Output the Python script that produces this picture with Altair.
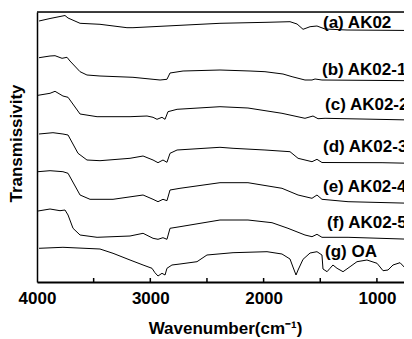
import altair as alt
import pandas as pd

# --- data (wavenumber, transmissivity in arbitrary offset units) ---
a_wn = [3982, 3885, 3753, 3726, 3620, 3444, 3206, 3153, 2385, 1970, 1767, 1705, 1652, 1590, 1529, 1458, 1264, 690]
a_tr = [261, 263.5, 266.5, 264, 258.7, 257.7, 254.3, 254.3, 258.7, 259.7, 260.3, 258, 252.7, 255.3, 256, 253, 252, 251.5]

b_wn = [3982, 3885, 3841, 3779, 3735, 3709, 3620, 3559, 3444, 3153, 2976, 2914, 2853, 2826, 2711, 2385, 2120, 1988, 1829, 1749, 1635, 1573, 1546, 1485, 690]
b_tr = [224.3, 226, 226.3, 223.7, 224.7, 221, 210.3, 207, 206, 204.7, 202.7, 202, 202.7, 209, 211, 212, 211, 210.3, 208, 205.3, 202, 202, 203, 202, 201.3]

c_wn = [3991, 3885, 3841, 3771, 3726, 3620, 3470, 3179, 3029, 2976, 2941, 2897, 2870, 2844, 2764, 2385, 2138, 1838, 1635, 1564, 1520, 1458, 690]
c_tr = [186.7, 188.7, 190.7, 186, 184.7, 168, 165.3, 165.3, 166, 164.7, 162.7, 164.7, 162.7, 170.3, 172.7, 175.3, 174, 168.7, 163.7, 166, 163.3, 163.7, 162]

d_wn = [3982, 3859, 3771, 3726, 3638, 3559, 3444, 3179, 3064, 2976, 2932, 2888, 2853, 2826, 2764, 2385, 2270, 1988, 1767, 1696, 1573, 1529, 1485, 955, 690]
d_tr = [148, 149.3, 148, 147, 128.7, 122, 121.3, 123.7, 126, 122, 119.3, 122, 119.7, 128.7, 132, 134.7, 133.7, 132, 130.3, 123.7, 120.3, 122.7, 119.5, 119.3, 118.7]

e_wn = [3991, 3885, 3771, 3726, 3620, 3532, 3329, 3064, 2976, 2932, 2888, 2853, 2826, 2738, 2385, 2138, 1838, 1696, 1573, 1529, 1485, 1255, 690]
e_tr = [110.3, 111.3, 110.3, 108.7, 87, 82.7, 82.7, 87, 82.7, 80.3, 82.7, 81.3, 92, 93.7, 99.3, 99.3, 93.7, 87, 83.7, 87, 82.7, 80.3, 78.7]

f_wn = [3991, 3885, 3797, 3753, 3726, 3682, 3620, 3470, 3179, 3064, 2976, 2932, 2888, 2853, 2826, 2738, 2385, 2138, 1926, 1785, 1635, 1573, 1529, 1485, 1255, 690]
f_tr = [71, 73, 71.3, 72, 67, 53.7, 47, 44.7, 46, 48.7, 43.7, 42.7, 44.3, 42.7, 53.7, 55.3, 62, 62, 59.3, 53.7, 47, 45.3, 47.7, 44.7, 44.7, 42.7]

g_wn = [3982, 3771, 3444, 3329, 3179, 3064, 2985, 2959, 2932, 2897, 2870, 2853, 2809, 2738, 2588, 2500, 2270, 1970, 1838, 1767, 1741, 1714, 1696, 1652, 1590, 1529, 1485, 1476, 1440, 1414, 1388, 1352, 1299, 1237, 1176, 1088, 999, 946, 902, 858, 796, 734, 690]
g_tr = [33.7, 34.7, 33, 28.7, 22, 17, 13.7, 9.3, 6, 8.7, 7, 13.7, 17, 18, 20.3, 27, 29.3, 30.3, 28, 23, 15, 7, 12, 22.7, 29, 30.3, 27, 13, 10.3, 13.7, 17, 13.7, 10.3, 15.3, 20.3, 22, 18.7, 11.3, 12, 17, 19.3, 12, 16]

label_text = ["(a) AK02", "(b) AK02-10", "(c) AK02-20", "(d) AK02-30", "(e) AK02-40", "(f) AK02-50", "(g) OA"]
label_wn = [1476, 1485, 1458, 1476, 1476, 1440, 1458]
label_tr = [254.5, 207, 172, 130.3, 90.3, 53.7, 25]

tick_wn = [3500, 3000, 2500, 2000, 1500, 1000]
label_values = [4000, 3000, 2000, 1000]

series = [("a", a_wn, a_tr), ("b", b_wn, b_tr), ("c", c_wn, c_tr), ("d", d_wn, d_tr),
          ("e", e_wn, e_tr), ("f", f_wn, f_tr), ("g", g_wn, g_tr)]
rows = []
for name, ws, ts in series:
    for w, t in zip(ws, ts):
        rows.append({"series": name, "wn": w, "tr": t})
df = pd.DataFrame(rows)
labels_df = pd.DataFrame({"wn": label_wn, "tr": label_tr, "text": label_text})
ticks_df = pd.DataFrame({"wn": tick_wn})
one_df = pd.DataFrame({"k": [0]})

W, H = 367, 270
FONT = "Liberation Sans"
xs = alt.Scale(domain=[4000, 761], nice=False, zero=False)
ys = alt.Scale(domain=[0, 270], nice=False, zero=False)

x_axis = alt.Axis(values=label_values, format="d", ticks=False, tickSize=0, grid=False,
                  labelFont=FONT, labelFontSize=17, labelFontWeight="bold", labelColor="black",
                  labelPadding=8, labelFlush=False, labelOverlap=False, labelBound=False,
                  domainColor="black", domainWidth=2,
                  title="Wavenumber(cm⁻¹)", titleFont=FONT, titleFontSize=17,
                  titleFontWeight="bold", titleColor="black",
                  titleX=188, titleY=51, titleBaseline="alphabetic", titleAlign="center")
y_axis = alt.Axis(labels=False, ticks=False, grid=False, domainColor="black", domainWidth=1.5,
                  title="Transmissivity", titleFont=FONT, titleFontSize=17,
                  titleFontWeight="bold", titleColor="black",
                  titleX=-15.5, titleY=131, titleAngle=270, titleAlign="center",
                  titleBaseline="alphabetic")

lines = alt.Chart(df).mark_line(color="black", strokeWidth=1, clip=True).encode(
    x=alt.X("wn:Q", scale=xs, axis=x_axis),
    y=alt.Y("tr:Q", scale=ys, axis=y_axis),
    detail="series:N",
)

texts = alt.Chart(labels_df).mark_text(
    align="left", baseline="alphabetic", font=FONT, fontSize=17, fontWeight="bold",
    color="black", clip=True
).encode(
    x=alt.X("wn:Q", scale=xs),
    y=alt.Y("tr:Q", scale=ys),
    text="text:N",
)

ticks = alt.Chart(ticks_df).mark_rule(color="black", strokeWidth=1.5).encode(
    x=alt.X("wn:Q", scale=xs),
    y=alt.value(H),
    y2=alt.value(H - 4),
)

frame = alt.Chart(one_df).mark_rule(color="black", strokeWidth=1.5).encode(
    x=alt.value(0), x2=alt.value(W), y=alt.value(0)
)

chart = alt.layer(lines, texts, ticks, frame).properties(
    width=W, height=H,
    padding={"left": 29, "top": 4, "right": 0, "bottom": 57},
    autosize=alt.AutoSizeParams(type="none"),
).configure_view(stroke=None).configure(background="white")

chart.save("out.html", embed_options={"renderer": "svg", "actions": False})
